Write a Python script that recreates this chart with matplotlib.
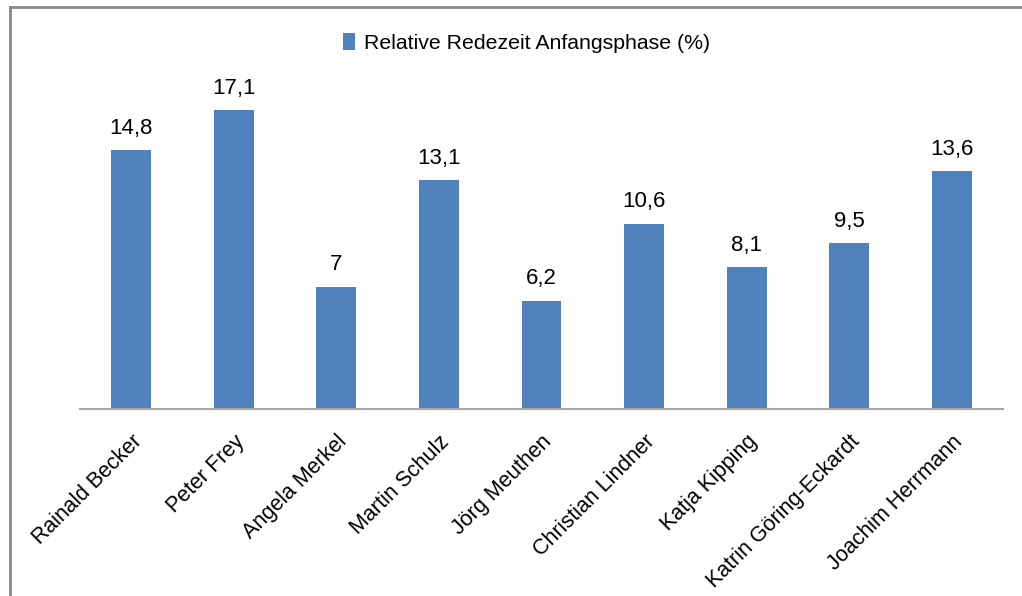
import matplotlib.pyplot as plt
from matplotlib.lines import Line2D

names = ["Rainald Becker", "Peter Frey", "Angela Merkel", "Martin Schulz",
         "Jörg Meuthen", "Christian Lindner", "Katja Kipping",
         "Katrin Göring-Eckardt", "Joachim Herrmann"]
values = [14.8, 17.1, 7, 13.1, 6.2, 10.6, 8.1, 9.5, 13.6]
series_name = "Relative Redezeit Anfangsphase (%)"

plt.rcParams['font.family'] = ['Liberation Sans', 'DejaVu Sans']

W, H = 1022, 596
fig = plt.figure(figsize=(W / 100, H / 100), dpi=100)
ax = fig.add_axes([80 / W, 1 - 409 / H, (1003 - 80) / W, (409 - 94) / H])

x = range(len(names))
bars = ax.bar(x, values, width=0.39, color="#4F81BD", label=series_name, zorder=2)
for xi, v in zip(x, values):
    ax.annotate(f"{v:g}".replace(".", ","), (xi, v), xytext=(0, 8),
                textcoords="offset points", ha="center", va="bottom", fontsize=16)

ax.set_xlim(-0.5, len(names) - 0.5)
ax.set_ylim(0, 18)
ax.set_yticks([])
ax.set_xticks(list(x))
ax.set_xticklabels(names, rotation=45, ha="right", rotation_mode="anchor", fontsize=15.5)
ax.tick_params(axis="x", length=0, pad=16)
for s in ["top", "right", "left"]:
    ax.spines[s].set_visible(False)
ax.spines["bottom"].set_color("#A6A6A6")
ax.spines["bottom"].set_linewidth(1.5)

fig.legend(handles=[bars], labels=[series_name], loc="center", bbox_to_anchor=(0.515, 1 - 43 / H),
           frameon=False, fontsize=15.3, handlelength=0.6, handleheight=0.8, handletextpad=0.4)

# outer chart border (top and left visible)
fig.add_artist(Line2D([9.5 / W, 1], [1 - 6.5 / H, 1 - 6.5 / H], color="#878787", lw=2,
                      transform=fig.transFigure))
fig.add_artist(Line2D([9.5 / W, 9.5 / W], [0, 1 - 6.5 / H], color="#878787", lw=2,
                      transform=fig.transFigure))

fig.savefig("out.png", dpi=100)
